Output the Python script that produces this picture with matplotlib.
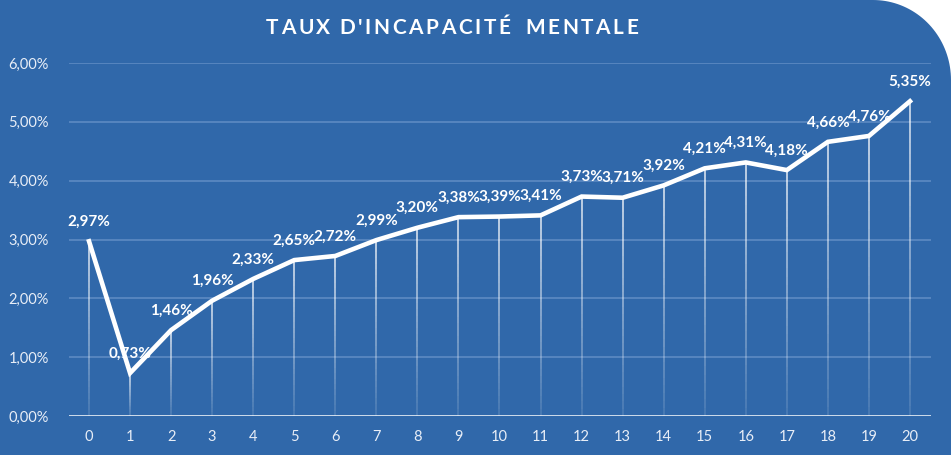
import matplotlib
matplotlib.use("Agg")
import matplotlib.pyplot as plt
import numpy as np
from matplotlib.path import Path
from matplotlib.patches import PathPatch
from matplotlib.collections import LineCollection

title = "TAUX D'INCAPACITÉ  MENTALE"
years = list(range(21))
rates = [2.97, 0.73, 1.46, 1.96, 2.33, 2.65, 2.72, 2.99, 3.20, 3.38, 3.39, 3.41,
         3.73, 3.71, 3.92, 4.21, 4.31, 4.18, 4.66, 4.76, 5.35]
yticks = [0, 1, 2, 3, 4, 5, 6]
ytick_labels = ["0,00%", "1,00%", "2,00%", "3,00%", "4,00%", "5,00%", "6,00%"]

BG = "#3068aa"
W, H = 951, 455
fig = plt.figure(figsize=(W / 100, H / 100), dpi=100)
fig.patch.set_facecolor("white")

# background with rounded top-right corner
rx, ry = 78 / W, 80 / H
theta = np.linspace(0, np.pi / 2, 40)
arc = [(1 - rx + rx * np.cos(t), 1 - ry + ry * np.sin(t)) for t in theta]
verts = [(0, 0), (1, 0)] + arc + [(0, 1), (0, 0)]
codes = [Path.MOVETO] + [Path.LINETO] * (len(verts) - 2) + [Path.CLOSEPOLY]
fig.patches.append(PathPatch(Path(verts, codes), transform=fig.transFigure,
                             facecolor=BG, edgecolor="none", zorder=-10))

ax = fig.add_axes([68.5 / W, 1 - 416 / H, (930.5 - 68.5) / W, (416 - 63) / H])
ax.set_facecolor("none")
ax.set_zorder(1)
ax.set_xlim(-0.5, 20.5)
ax.set_ylim(0, 6)

for s in ax.spines.values():
    s.set_visible(False)
for yv in yticks[1:]:
    ax.axhline(yv, color="#5d8ac3", lw=1.2, zorder=1)
ax.axhline(0, color="white", lw=1.8, zorder=3)

# drop lines with fading gradient
segs, cols = [], []
n = 30
for x, y in zip(years, rates):
    ys = np.linspace(0, y, n + 1)
    for i in range(n):
        segs.append([(x, ys[i]), (x, ys[i + 1])])
        a = 0.15 + 0.75 * (i / n)
        cols.append((1, 1, 1, a))
ax.add_collection(LineCollection(segs, colors=cols, linewidths=1.1, zorder=2))

ax.plot(years, rates, color="white", lw=3.3, solid_joinstyle="miter", zorder=4)

for x, y in zip(years, rates):
    ax.annotate(f"{y:.2f}%".replace(".", ","), (x, y), xytext=(0, 9),
                textcoords="offset points", ha="center", va="bottom",
                color="white", fontsize=11, fontweight="bold", family="Lato", zorder=5)

ax.set_xticks(years)
ax.set_xticklabels([str(v) for v in years])
ax.set_yticks(yticks)
ax.set_yticklabels(ytick_labels)
ax.tick_params(length=0, colors="#e8eef7", labelsize=10.5, pad=10)
ax.tick_params(axis="y", pad=14)
for lab in ax.get_xticklabels() + ax.get_yticklabels():
    lab.set_family("Lato")

# title with letter spacing
renderer = fig.canvas.get_renderer()
tkw = dict(color="white", fontsize=15, fontweight="bold", family="Lato",
           va="center", ha="left")
track = 2.6  # px
widths = []
for ch in title:
    t = fig.text(0, 0, ch if ch != " " else "i", **tkw)
    widths.append(t.get_window_extent(renderer).width * (0.7 if ch == " " else 1))
    t.remove()
total = sum(widths) + track * (len(title) - 1)
x0 = 452 - total / 2
for ch, w in zip(title, widths):
    if ch != " ":
        fig.text(x0 / W, 1 - 28 / H, ch, **tkw)
    x0 += w + track

fig.savefig("out.png", dpi=100, facecolor=fig.get_facecolor())
